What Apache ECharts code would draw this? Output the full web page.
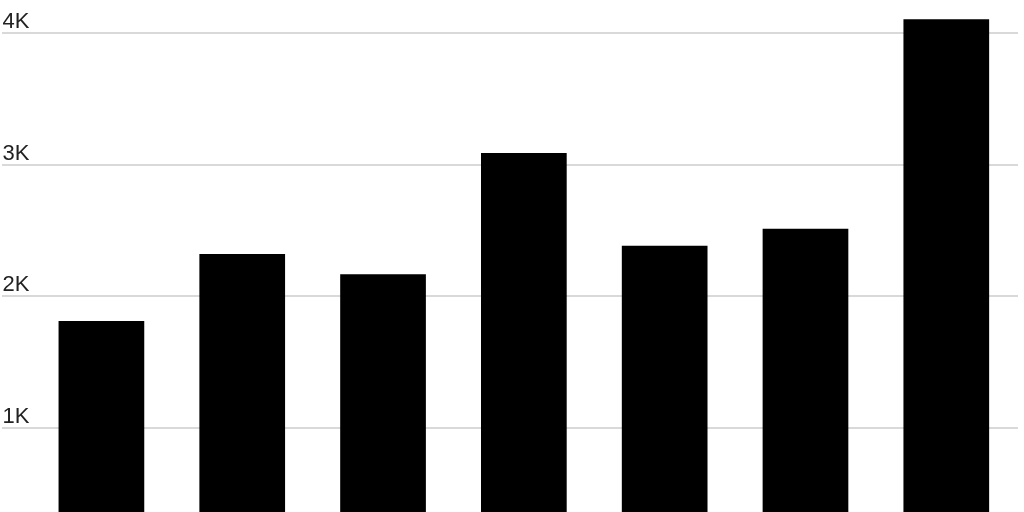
<!DOCTYPE html>
<html>
<head>
<meta charset="utf-8">
<script src="https://cdn.jsdelivr.net/npm/echarts@6/dist/echarts.min.js"></script>
<style>
  html, body { margin: 0; padding: 0; background: #fff; }
  #main { width: 1024px; height: 512px; }
</style>
</head>
<body>
<div id="main"></div>
<script>
const categories = ['A', 'B', 'C', 'D', 'E', 'F', 'G']
const values = [1812, 2321, 2166, 3088, 2384, 2513, 4104]
const yTicks = [0, 1000, 2000, 3000, 4000]

const fmt = v => (v === 0 ? '' : (v / 1000) + 'K')

let chart = echarts.init(document.getElementById('main'))

// grid 0 holds the bars, grid 1 only draws the wider gridlines + labels
// the zero line sits below the visible area, so height is set directly
const gridTop = 33
const gridHeight = 526.4
chart.setOption({
  animation: false,
  grid: [
    { left: 31, width: 985.7, top: gridTop, height: gridHeight, outerBoundsMode: 'none' },
    { left: 2, width: 1016, top: gridTop, height: gridHeight, outerBoundsMode: 'none' },
  ],
  xAxis: [
    { type: 'category', gridIndex: 0, data: categories, show: false },
    { type: 'category', gridIndex: 1, data: categories, show: false },
  ],
  yAxis: [
    {
      type: 'value', gridIndex: 0, min: yTicks[0], max: yTicks[yTicks.length - 1],
      interval: 1000, show: false,
    },
    {
      type: 'value', gridIndex: 1, min: yTicks[0], max: yTicks[yTicks.length - 1],
      interval: 1000,
      axisLine: { show: false },
      axisTick: { show: false },
      splitLine: { lineStyle: { color: '#d9d9d9', width: 2 } },
      axisLabel: {
        inside: true,
        margin: 0.5,
        verticalAlign: 'bottom',
        lineHeight: 22,
        color: '#222',
        fontSize: 22,
        fontFamily: 'Liberation Sans',
        formatter: fmt,
      },
    },
  ],
  series: [{
    type: 'bar',
    xAxisIndex: 0,
    yAxisIndex: 0,
    data: values,
    barWidth: 85.7,
    clip: false,
    itemStyle: { color: '#000' },
    z: 3,
  }],
})
</script>
</body>
</html>
